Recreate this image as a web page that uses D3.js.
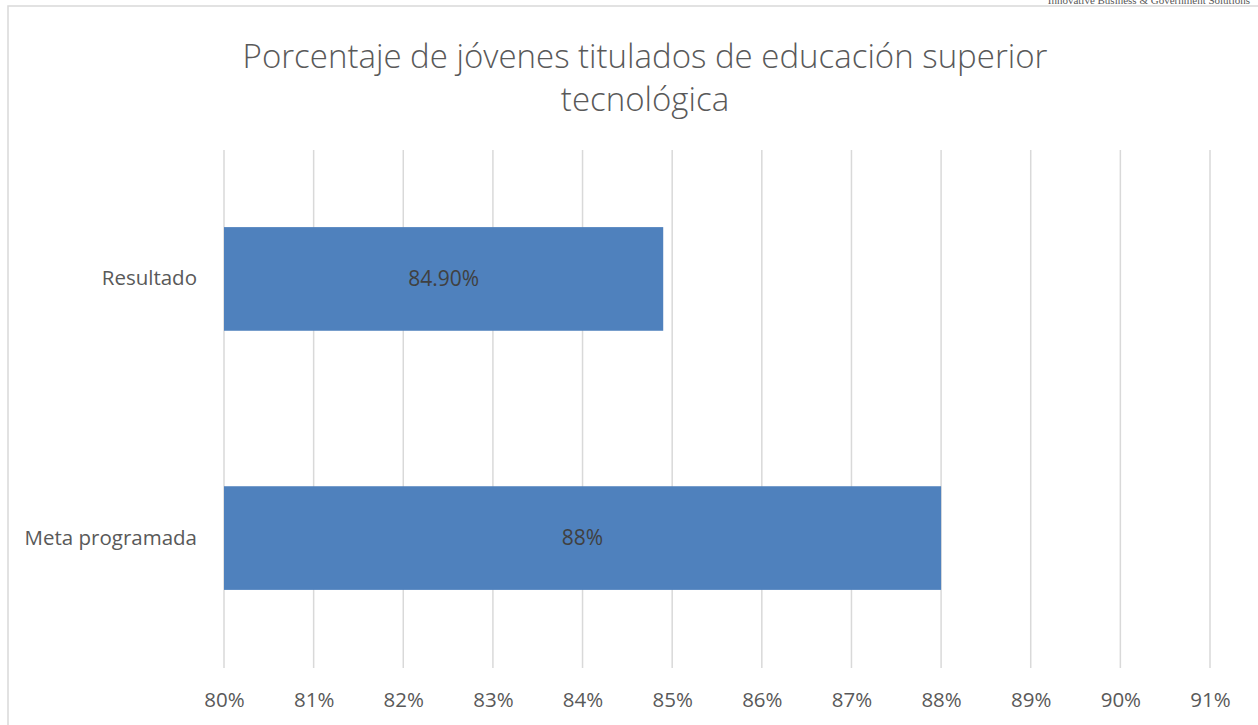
<!DOCTYPE html>
<html>
<head>
<meta charset="utf-8">
<script src="https://cdn.jsdelivr.net/npm/d3@7"></script>
<style>
  html, body { margin: 0; padding: 0; background: #fff; }
  svg { display: block; }
</style>
</head>
<body>
<svg id="chart" width="1258" height="725"></svg>
<script>
const categories = ["Resultado", "Meta programada"];
const values = [84.9, 88];
const valueLabels = ["84.90%", "88%"];
const tickValues = [80, 81, 82, 83, 84, 85, 86, 87, 88, 89, 90, 91];
const tickLabels = ["80%", "81%", "82%", "83%", "84%", "85%", "86%", "87%", "88%", "89%", "90%", "91%"];
const titleLines = ["Porcentaje de jóvenes titulados de educación superior", "tecnológica"];
const headerText = "Innovative Business & Government Solutions";

const svg = d3.select("#chart");
const font = "'Open Sans', Lato, sans-serif";

// header text (clipped at top, as in the source)
svg.append("text")
  .attr("x", 1250).attr("y", 4)
  .attr("text-anchor", "end")
  .attr("font-family", "'Liberation Serif', 'DejaVu Serif', serif")
  .attr("font-size", 11)
  .attr("fill", "#595959")
  .text(headerText);

// chart frame
svg.append("rect")
  .attr("x", 8).attr("y", 6)
  .attr("width", 1270).attr("height", 740)
  .attr("fill", "none")
  .attr("stroke", "#d9d9d9")
  .attr("stroke-width", 1.5);

const plotLeft = 224, plotRight = 1210, plotTop = 150, plotBottom = 668;

const x = d3.scaleLinear().domain([80, 91]).range([plotLeft, plotRight]);
const y = d3.scaleBand().domain(categories).range([146, 671])
  .paddingInner(0.6).paddingOuter(0.313);

// gridlines
svg.append("g").selectAll("line").data(tickValues).join("line")
  .attr("x1", d => x(d)).attr("x2", d => x(d))
  .attr("y1", plotTop).attr("y2", plotBottom)
  .attr("stroke", "#d9d9d9").attr("stroke-width", 1.5);

// bars
svg.append("g").selectAll("rect").data(categories).join("rect")
  .attr("x", x(80))
  .attr("y", d => y(d))
  .attr("width", (d, i) => x(values[i]) - x(80))
  .attr("height", y.bandwidth())
  .attr("fill", "#4f81bd");

// data labels
svg.append("g").selectAll("text").data(categories).join("text")
  .attr("x", (d, i) => (x(80) + x(values[i])) / 2)
  .attr("y", d => y(d) + y.bandwidth() / 2)
  .attr("dy", "0.35em")
  .attr("text-anchor", "middle")
  .attr("font-family", font)
  .attr("font-size", 21)
  .attr("fill", "#404040")
  .text((d, i) => valueLabels[i]);

// x axis labels
const xAxis = d3.axisBottom(x).tickValues(tickValues)
  .tickFormat((d, i) => tickLabels[i]).tickSize(0).tickPadding(24);
const gx = svg.append("g").attr("transform", `translate(0,${plotBottom})`).call(xAxis);
gx.select(".domain").remove();
gx.selectAll("text")
  .attr("font-family", font).attr("font-size", 20.5).attr("fill", "#595959");

// y axis labels
const yAxis = d3.axisLeft(y).tickSize(0).tickPadding(27);
const gy = svg.append("g").attr("transform", `translate(${plotLeft},0)`).call(yAxis);
gy.select(".domain").remove();
gy.selectAll("text")
  .attr("font-family", font).attr("font-size", 20.5).attr("fill", "#595959");

// title
svg.append("g").selectAll("text").data(titleLines).join("text")
  .attr("x", 645)
  .attr("y", (d, i) => 68 + i * 43)
  .attr("text-anchor", "middle")
  .attr("font-family", font)
  .attr("font-size", 33)
  .attr("font-weight", 300)
  .attr("fill", "#595959")
  .text(d => d);
</script>
</body>
</html>
